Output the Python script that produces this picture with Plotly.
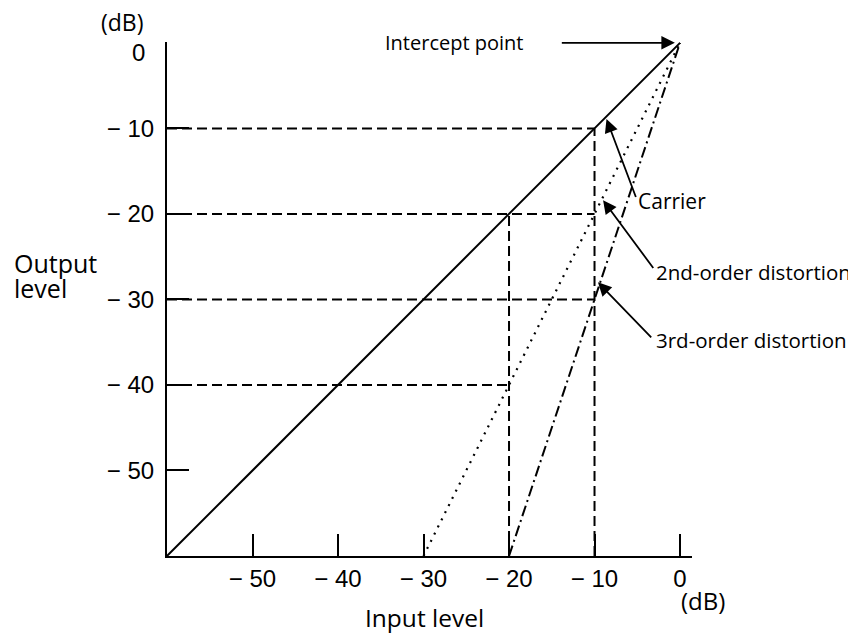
import plotly.graph_objects as go

# Data
carrier_x = [-60, 0]
carrier_y = [-60, 0]
second_x = [-30, 0]
second_y = [-60, 0]
third_x = [-20, 0]
third_y = [-60, 0]

# dashed reference segments
ref_h = [  # (y, x_end)
    (-10, -10),
    (-20, -10),
    (-30, -10),
    (-40, -20),
]
ref_v = [  # (x, y_top)
    (-20, -20),
    (-10, -10),
]

x_ticks = [-50, -40, -30, -20, -10, 0]
x_ticktext = ["\u2212 50", "\u2212 40", "\u2212 30", "\u2212 20", "\u2212 10", "0"]
y_ticks = [0, -10, -20, -30, -40, -50]
y_ticktext = ["", "\u2212 10", "\u2212 20", "\u2212 30", "\u2212 40", "\u2212 50"]
y_top_label = "0"

TXT = "Open Sans"
NUM = "Liberation Sans"

fig = go.Figure()

dash_style = "10px,5px"
for y, xe in ref_h:
    fig.add_trace(go.Scatter(x=[-60, xe], y=[y, y], mode="lines",
                             line=dict(color="black", width=2, dash=dash_style),
                             showlegend=False, hoverinfo="skip"))
for x, yt in ref_v:
    fig.add_trace(go.Scatter(x=[x, x], y=[-60, yt], mode="lines",
                             line=dict(color="black", width=2, dash=dash_style),
                             showlegend=False, hoverinfo="skip"))

fig.add_trace(go.Scatter(x=carrier_x, y=carrier_y, mode="lines",
                         line=dict(color="black", width=2),
                         showlegend=False, hoverinfo="skip"))
fig.add_trace(go.Scatter(x=second_x, y=second_y, mode="lines",
                         line=dict(color="black", width=2.2, dash="2px,6px"),
                         showlegend=False, hoverinfo="skip"))
fig.add_trace(go.Scatter(x=third_x, y=third_y, mode="lines",
                         line=dict(color="black", width=2, dash="11px,4px,2px,4px"),
                         showlegend=False, hoverinfo="skip"))

annotations = []
annotations.append(dict(x=-34.7, y=0, xref="x", yref="y", text="Intercept point",
                        showarrow=False, xanchor="left", yanchor="middle",
                        font=dict(family=TXT, size=20, color="black")))
annotations.append(dict(x=-5.1, y=-18.5, xref="x", yref="y", text="Carrier",
                        showarrow=False, xanchor="left", yanchor="middle",
                        font=dict(family=TXT, size=21, color="black")))
annotations.append(dict(x=-3.0, y=-26.8, xref="x", yref="y", text="2nd-order distortion",
                        showarrow=False, xanchor="left", yanchor="middle",
                        font=dict(family=TXT, size=20.5, color="black")))
annotations.append(dict(x=-3.0, y=-34.8, xref="x", yref="y", text="3rd-order distortion",
                        showarrow=False, xanchor="left", yanchor="middle",
                        font=dict(family=TXT, size=20.5, color="black")))
arrows = [
    ((-14.0, 0.0), (-0.6, 0.0)),
    ((-5.1, -18.2), (-8.6, -8.9)),
    ((-3.0, -26.5), (-9.0, -18.4)),
    ((-3.2, -34.6), (-9.6, -28.0)),
]
for (tx, ty), (hx, hy) in arrows:
    annotations.append(dict(x=hx, y=hy, ax=tx, ay=ty, xref="x", yref="y",
                            axref="x", ayref="y", text="", showarrow=True,
                            arrowhead=2, arrowsize=1.5, arrowwidth=1.8,
                            arrowcolor="black", standoff=0, startstandoff=0))
# top "0" label of the y axis (sits a little lower / left in the reference)
annotations.append(dict(x=-0.055, y=0.979, xref="paper", yref="paper", text=y_top_label,
                        showarrow=False, xanchor="center", yanchor="middle",
                        font=dict(family=NUM, size=24, color="black")))
annotations.append(dict(x=-0.0857, y=1.038, xref="paper", yref="paper", text="(dB)",
                        showarrow=False, xanchor="center", yanchor="middle",
                        font=dict(family=TXT, size=23, color="black")))
annotations.append(dict(x=-0.295, y=0.571, xref="paper", yref="paper",
                        text="Output", showarrow=False, xanchor="left", yanchor="middle",
                        font=dict(family=TXT, size=25, color="black")))
annotations.append(dict(x=-0.295, y=0.522, xref="paper", yref="paper",
                        text="level", showarrow=False, xanchor="left", yanchor="middle",
                        font=dict(family=TXT, size=25, color="black")))
annotations.append(dict(x=0.49, y=-0.12, xref="paper", yref="paper", text="Input level",
                        showarrow=False, xanchor="center", yanchor="middle",
                        font=dict(family=TXT, size=24.5, color="black")))
annotations.append(dict(x=1.021, y=-0.087, xref="paper", yref="paper", text="(dB)",
                        showarrow=False, xanchor="center", yanchor="middle",
                        font=dict(family=TXT, size=24, color="black")))

# page body adds an 8px offset; compensate in the margins
fig.update_layout(
    width=856, height=637,
    margin=dict(l=159, r=172, t=34, b=89),
    paper_bgcolor="white", plot_bgcolor="white",
    annotations=annotations,
    xaxis=dict(range=[-60, 1.4], showgrid=False, zeroline=False,
               showline=True, linecolor="black", linewidth=2,
               ticks="inside", ticklen=22, tickwidth=2, tickcolor="black",
               tickvals=x_ticks, ticktext=x_ticktext,
               tickfont=dict(family=NUM, size=24, color="black"),
               ticklabelstandoff=0),
    yaxis=dict(range=[-60, 0.1], showgrid=False, zeroline=False,
               showline=True, linecolor="black", linewidth=2,
               ticks="inside", ticklen=22, tickwidth=2, tickcolor="black",
               tickvals=y_ticks, ticktext=y_ticktext,
               tickfont=dict(family=NUM, size=24, color="black"),
               ticklabelstandoff=6),
)

fig.write_html("out.html")
